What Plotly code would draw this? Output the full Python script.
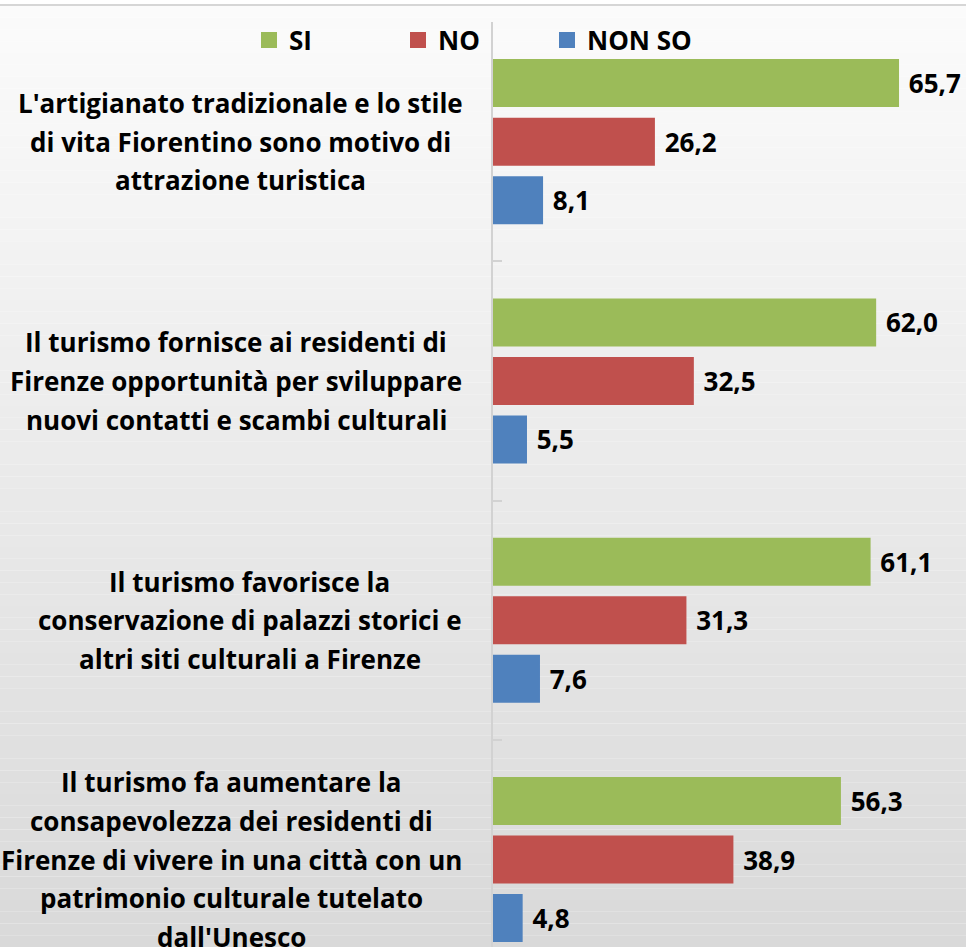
import plotly.graph_objects as go

# ---------------- data ----------------
label_lines = [
    ["L'artigianato tradizionale e lo stile", "di vita Fiorentino sono motivo di", "attrazione turistica"],
    ["Il turismo fornisce ai residenti di", "Firenze opportunità per sviluppare", "nuovi contatti e scambi culturali"],
    ["Il turismo favorisce la", "conservazione di palazzi storici e", "altri siti culturali a Firenze"],
    ["Il turismo fa aumentare la", "consapevolezza dei residenti di", "Firenze di vivere in una città con un",
     "patrimonio culturale tutelato", "dall'Unesco"],
]
categories = [" ".join(l) for l in label_lines]
series_names = ["SI", "NO", "NON SO"]
si_values = [65.7, 62.0, 61.1, 56.3]
no_values = [26.2, 32.5, 31.3, 38.9]
nonso_values = [8.1, 5.5, 7.6, 4.8]
series_values = [si_values, no_values, nonso_values]
colors = ["#9BBB59", "#C0504D", "#4F81BD"]

# ---------------- layout constants ----------------
W, H = 966, 947
ML, MT = 493, 22
PW, PH = W - ML, H - MT
FONT = "Open Sans"
FS = 26
label_center_px = [241, 236, 250, 231]
line_h = 38.6

fig = go.Figure()
for name, vals, col in zip(series_names, series_values, colors):
    fig.add_trace(go.Bar(
        y=categories, x=vals, orientation="h", name=name,
        marker=dict(color=col, line=dict(width=0)),
        texttemplate=" %{x:.1f}", textposition="outside",
        textfont=dict(family=FONT, size=FS, color="black", weight="bold"),
        cliponaxis=False, constraintext="none", showlegend=False,
    ))
# legend entries (square symbols)
for name, col in zip(series_names, colors):
    fig.add_trace(go.Scatter(
        x=[None], y=[None], mode="markers", name=name,
        marker=dict(symbol="square", size=16, color=col), showlegend=True,
    ))

def px_to_px(px):
    return (px - ML) / PW

def py_to_py(py):
    return 1 - (py - MT) / PH

# gradient background
shapes = []
N = 80
top, bot = 6, H
for i in range(N):
    y0 = top + (bot - top) * i / N
    y1 = top + (bot - top) * (i + 1) / N
    t = (i + 0.5) / N
    c = round(251 - (251 - 217) * t)
    shapes.append(dict(type="rect", xref="paper", yref="paper",
                       x0=px_to_px(0), x1=px_to_px(W), y0=py_to_py(y1), y1=py_to_py(y0),
                       fillcolor=f"rgb({c},{c},{c})", line=dict(width=0), layer="below"))
shapes.append(dict(type="line", xref="paper", yref="paper",
                   x0=px_to_px(0), x1=px_to_px(W), y0=py_to_py(5), y1=py_to_py(5),
                   line=dict(color="#d6d6d6", width=2), layer="below"))

annotations = []
for ci, (cat, lines) in enumerate(zip(categories, label_lines)):
    n = len(lines)
    for li, txt in enumerate(lines):
        annotations.append(dict(
            xref="paper", yref="y", x=px_to_px(label_center_px[ci]), y=cat,
            text=txt, showarrow=False, xanchor="center", yanchor="middle",
            yshift=((n - 1) / 2 - li) * line_h,
            font=dict(family=FONT, size=FS, color="black", weight="bold"),
        ))

cat_px = 239.3
span = PH / cat_px

fig.update_layout(
    width=W, height=H,
    margin=dict(l=ML, r=0, t=MT, b=0, pad=0),
    paper_bgcolor="white", plot_bgcolor="rgba(0,0,0,0)",
    barmode="group", bargap=0.266, bargroupgap=0.18,
    separators=",.",
    shapes=shapes, annotations=annotations,
    showlegend=True,
    legend=dict(orientation="h", x=px_to_px(249), y=py_to_py(40), xanchor="left", yanchor="middle",
                font=dict(family=FONT, size=FS, color="black", weight="bold"),
                bgcolor="rgba(0,0,0,0)", entrywidth=104, entrywidthmode="pixels",
                itemclick=False),
    xaxis=dict(visible=False, range=[0, PW / 6.18]),
    yaxis=dict(range=[-0.5 + span, -0.5], showticklabels=False, showgrid=False, zeroline=False,
               showline=True, linecolor="#d2d2d2", linewidth=2,
               ticks="inside", ticklen=9, tickwidth=2, tickcolor="#d2d2d2", tickson="boundaries"),
    font=dict(family=FONT),
)

fig.write_html("out.html", config={"displayModeBar": False},
               post_script="document.body.style.margin='0px';")
